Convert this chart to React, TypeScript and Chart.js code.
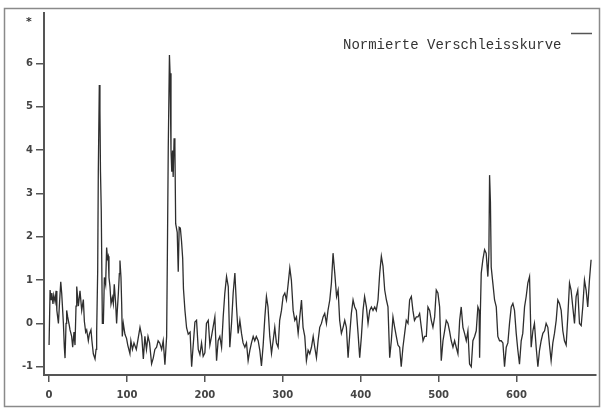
import React, { useEffect, useRef } from 'react';
import { Chart, registerables } from 'chart.js';
Chart.register(...registerables);

const positions = [
  0, 1.3, 2.5, 3.5, 5, 6, 7.7, 9, 10, 12, 13.2, 15, 16.2, 18.4, 19.6, 20.5, 21.8, 22.6, 23.9, 26,
  26.9, 29, 30.3, 32, 33.3, 34.6, 35.5, 37.6, 39.7, 41.9, 44, 45.3, 47, 48.3, 50.4, 51.7, 53.8, 55, 56.8, 59,
  60.3, 61.1, 62.4, 63.2, 64.5, 65.3, 66, 67, 68.4, 69.7, 71, 72.6, 73.9, 75, 76, 76.9, 78.2, 79.5, 81.2, 82.5,
  83.7, 85.5, 86.7, 87.6, 88.9, 90.2, 91, 92.3, 93.2, 94, 95.3, 97.4, 99.5, 101, 103.8, 105, 107, 109, 112, 116.7,
  119, 121, 123, 125, 127, 129, 131.6, 133.7, 135.8, 138, 140, 142, 144.5, 146.5, 148.7, 150.9, 151.8, 153, 154.5, 155.3,
  156.5, 157.5, 158.5, 159.3, 160.5, 161.5, 162.5, 164.5, 165.8, 167, 168.5, 170, 171.5, 172.5, 174.4, 176.5, 178.6, 181, 183, 184.2,
  187.2, 189.3, 191.5, 193.6, 195.7, 197.8, 200, 202, 204.3, 206.4, 208.5, 210.7, 212.8, 215, 217, 219.2, 221.4, 223.5, 225.6, 227.8,
  230, 232, 234.2, 236.3, 238.5, 240.6, 242.7, 244.9, 247, 249, 251.3, 253.4, 255.5, 257.7, 259.8, 262, 264, 266, 268.4, 270.5,
  272.6, 274.8, 277, 279, 281, 283.3, 285.5, 287.6, 289.7, 291.8, 294, 296, 298.3, 300.4, 302.6, 304.7, 307, 309, 311, 313.3,
  315.4, 317.5, 319.7, 321.8, 324, 326, 328.2, 330.3, 332.5, 334.6, 336.8, 339, 341, 343.2, 345.3, 347.4, 349.6, 351.7, 353.8, 356,
  358, 360.3, 362.4, 364.5, 366.7, 369, 371, 373, 375.2, 377.4, 379.5, 381.6, 383.8, 386, 388, 390.2, 392.3, 394.4, 396.6, 398.7,
  400.9, 403, 405, 407.3, 409.4, 411.6, 413.7, 415.8, 418, 420, 422.2, 424.4, 426.5, 428.6, 430.8, 433, 435, 437.2, 439.3, 441.4,
  443.6, 445.7, 447.8, 450, 452, 454.2, 456.4, 458.5, 460.7, 462.8, 465, 467, 469, 471.4, 473.5, 475.6, 477.8, 480, 482, 484.2,
  486.3, 488.5, 490.6, 492.7, 494.9, 497, 499.1, 501.3, 503.4, 505.6, 507.7, 509.8, 512, 514, 516.2, 518.4, 520.5, 522.6, 524.8, 527,
  529, 531.2, 533.3, 535.5, 537.6, 539.7, 541.9, 544, 546.2, 548.3, 550.4, 552, 552.6, 553.5, 554.7, 556.8, 559, 561, 563.2, 564.5,
  565.4, 566.5, 567.5, 569.6, 571.8, 574, 576, 578.2, 580.3, 582.5, 584.6, 586.8, 588.9, 591, 593.2, 595.3, 597.4, 599.6, 601.7, 603.8,
  606, 608, 610.3, 612.4, 614.5, 616.7, 618.8, 621, 623, 625.2, 627.4, 629.5, 631.6, 633.8, 636, 638, 640.2, 642.3, 644.4, 646.6,
  648.7, 650.9, 653, 655.1, 657.3, 659.4, 661.5, 663.7, 665.8, 668, 670, 672.2, 674.4, 676.5, 678.6, 680.8, 683, 685, 687.2, 689.3,
  691.4, 693.6, 695.7,
];

const values = [
  -0.5, 0.77, 0.55, 0.7, 0.45, 0.65, 0.5, 0.75, 0.3, 0.0, 0.4, 0.96, 0.7, 0.0, -0.55, -0.8, 0.0, 0.3, 0.15, -0.05,
  -0.15, -0.3, -0.55, -0.2, -0.5, 0.4, 0.85, 0.4, 0.75, 0.3, 0.55, 0.05, -0.2, -0.15, -0.4, -0.25, -0.15, -0.4, -0.7, -0.82,
  -0.6, -0.2, 1.2, 3.5, 5.5, 4.9, 3.5, 2.6, 0.0, 0.0, 1.06, 0.9, 1.75, 1.5, 1.55, 1.06, 0.85, 0.45, 0.6, 0.45,
  0.9, 0.45, 0.0, 0.3, 0.68, 1.15, 1.45, 1.06, 0.45, -0.3, 0.0, -0.25, -0.35, -0.5, -0.7, -0.4, -0.6, -0.45, -0.6, -0.09,
  -0.3, -0.82, -0.3, -0.6, -0.3, -0.45, -0.93, -0.8, -0.6, -0.55, -0.4, -0.45, -0.6, -0.4, -0.95, -0.3, 1.46, 4.07, 6.19, 5.77,
  4.0, 3.5, 3.99, 3.38, 4.27, 4.1, 2.3, 2.1, 1.19, 2.22, 2.2, 1.9, 1.5, 0.8, 0.3, -0.1, -0.25, -0.2, -1.0, -0.7,
  0.03, 0.07, -0.6, -0.72, -0.45, -0.76, -0.68, 0.0, 0.07, -0.5, -0.3, -0.07, 0.15, -0.86, -0.4, -0.3, -0.55, 0.15, 0.7, 1.08,
  0.85, -0.55, 0.0, 0.7, 1.16, 0.38, -0.23, 0.07, -0.23, -0.45, -0.55, -0.45, -0.86, -0.62, -0.45, -0.3, -0.4, -0.3, -0.4, -0.62,
  -0.98, -0.5, 0.15, 0.62, 0.38, -0.3, -0.69, -0.4, -0.09, -0.45, -0.55, 0.07, 0.3, 0.62, 0.7, 0.54, 0.93, 1.28, 1.0, 0.3,
  0.07, 0.15, -0.23, 0.15, 0.54, -0.09, -0.3, -0.86, -0.62, -0.7, -0.55, -0.3, -0.55, -0.79, -0.4, -0.09, 0.0, 0.15, 0.23, 0.0,
  0.3, 0.54, 0.93, 1.62, 1.16, 0.62, 0.77, 0.07, -0.23, -0.09, 0.07, -0.09, -0.79, -0.23, 0.23, 0.54, 0.38, 0.3, -0.23, -0.79,
  -0.3, 0.3, 0.62, 0.38, 0.0, 0.3, 0.38, 0.3, 0.38, 0.3, 0.54, 1.16, 1.55, 1.32, 0.77, 0.54, 0.38, -0.79, -0.4, 0.15,
  -0.09, -0.3, -0.5, -0.55, -1.0, -0.55, -0.23, 0.07, 0.0, 0.54, 0.62, 0.3, 0.07, 0.15, 0.15, 0.23, -0.09, -0.4, -0.3, -0.3,
  0.38, 0.3, 0.07, -0.09, 0.15, 0.77, 0.7, 0.38, -0.86, -0.4, -0.17, 0.07, 0.0, -0.17, -0.4, -0.55, -0.4, -0.55, -0.7, 0.07,
  0.38, -0.09, -0.23, -0.4, -0.17, -0.94, -1.0, -0.4, -0.3, -0.17, 0.38, 0.3, -0.79, 0.2, 1.16, 1.47, 1.7, 1.62, 1.08, 1.6,
  3.42, 2.8, 1.3, 0.93, 0.54, 0.38, -0.3, -0.4, -0.4, -0.45, -1.0, -0.55, -0.45, 0.0, 0.38, 0.46, 0.3, -0.23, -0.62, -0.94,
  -0.4, -0.23, 0.38, 0.62, 0.93, 1.08, -0.55, -0.17, 0.0, -0.55, -1.0, -0.62, -0.4, -0.23, -0.17, 0.0, -0.09, -0.5, -0.86, -0.45,
  -0.23, 0.07, 0.54, 0.46, 0.3, -0.17, -0.4, -0.5, 0.15, 0.93, 0.77, 0.38, 0.0, 0.62, 0.77, 0.0, -0.05, 0.38, 1.0, 0.77,
  0.38, 1.0, 1.47,
];

const xTicks = [0, 100, 200, 300, 400, 500, 600];
const yTicks = [-1, 0, 1, 2, 3, 4, 5, 6];
const seriesLabel = 'Normierte Verschleisskurve';
const yAxisTitle = '*';

export default function App() {
  const ref = useRef<HTMLCanvasElement>(null);
  useEffect(() => {
    const canvas = ref.current!;
    const decor = {
      id: 'decor',
      afterDraw(chart: any) {
        const c = chart.ctx;
        c.save();
        c.strokeStyle = '#8a8a8a';
        c.lineWidth = 1.5;
        c.strokeRect(4.5, 8.5, 595, 398);
        c.fillStyle = '#333';
        c.font = 'bold 11px "DejaVu Sans"';
        c.textAlign = 'center';
        c.textBaseline = 'middle';
        c.fillText(yAxisTitle, 29, 22);
        c.font = '14px "Liberation Mono"';
        c.textAlign = 'left';
        c.fillText(seriesLabel, 343, 45);
        c.beginPath();
        c.moveTo(571, 33.5);
        c.lineTo(592, 33.5);
        c.strokeStyle = '#555';
        c.lineWidth = 1.5;
        c.stroke();
        c.restore();
      },
    };
    const chart = new Chart(canvas, {
      type: 'line',
      data: {
        datasets: [
          {
            label: seriesLabel,
            data: positions.map((x, i) => ({ x, y: values[i] })),
            borderColor: '#2e2e2e',
            borderWidth: 1.3,
            pointRadius: 0,
            tension: 0,
            fill: false,
          },
        ],
      },
      options: {
        responsive: false,
        animation: false,
        layout: { padding: { top: 13, right: 9, left: 0, bottom: 0 } },
        plugins: { legend: { display: false }, tooltip: { enabled: false } },
        scales: {
          x: {
            type: 'linear',
            min: -6.5,
            max: 702,
            afterBuildTicks: (s: any) => { s.ticks = xTicks.map((v) => ({ value: v })); },
            afterFit: (s: any) => { s.height = 42; },
            grid: { display: true, drawOnChartArea: false, drawTicks: true, tickLength: 7, color: '#555', lineWidth: 1.5 },
            border: { display: true, color: '#555', width: 2 },
            ticks: { color: '#444', font: { family: 'DejaVu Sans', size: 10, weight: 'bold' }, padding: 7, maxRotation: 0, autoSkip: false },
          },
          y: {
            type: 'linear',
            min: -1.19,
            max: 7.16,
            afterBuildTicks: (s: any) => { s.ticks = yTicks.map((v) => ({ value: v })); },
            afterFit: (s: any) => { s.width = 44; },
            grid: { display: true, drawOnChartArea: false, drawTicks: true, tickLength: 8, color: '#555', lineWidth: 1.5 },
            border: { display: true, color: '#555', width: 2 },
            ticks: { color: '#444', font: { family: 'DejaVu Sans', size: 10, weight: 'bold' }, padding: 3, autoSkip: false },
          },
        },
      },
      plugins: [decor],
    });
    return () => chart.destroy();
  }, []);
  return (
    <div style={{ position: 'absolute', left: 0, top: 0, width: 605, height: 417 }}>
      <canvas ref={ref} width={605} height={417} style={{ display: 'block' }} />
    </div>
  );
}
